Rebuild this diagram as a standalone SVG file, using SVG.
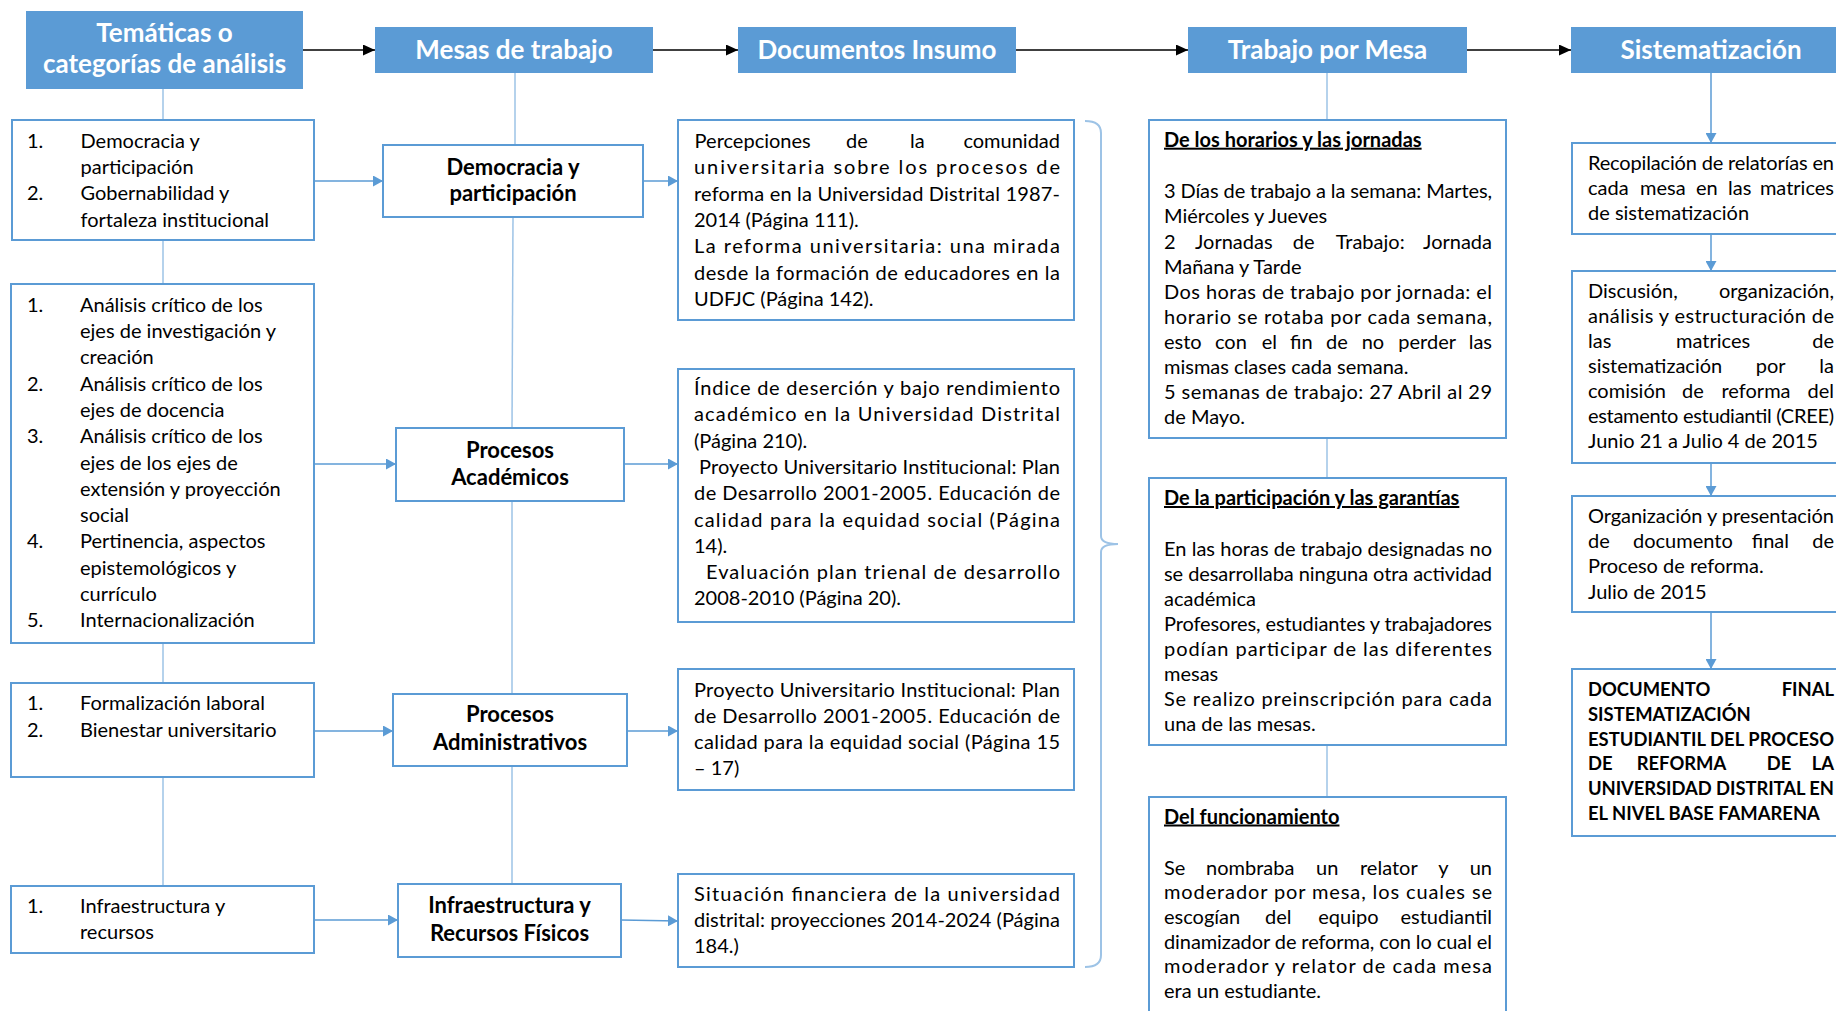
<svg xmlns="http://www.w3.org/2000/svg" width="1836" height="1011" viewBox="0 0 1836 1011">
<defs>
<style>
.hdr{fill:#5B9BD5}
.ht{font-family:Lato,"Liberation Sans",sans-serif;font-weight:bold;font-size:26px;fill:#fff;text-anchor:middle}
.box{fill:#fff;stroke:#5B9BD5;stroke-width:2}
.t{font-family:Lato,"Liberation Sans",sans-serif;font-size:20px;fill:#000}
.e{text-anchor:end}
.b{font-weight:bold}
.u{text-decoration:underline}
.cap{font-family:Lato,"Liberation Sans",sans-serif;font-weight:bold;font-size:18.4px;fill:#000}
.mt{font-family:Lato,"Liberation Sans",sans-serif;font-weight:bold;font-size:22px;fill:#000;text-anchor:middle}
.ln{stroke:#9DC3E6;stroke-width:1.5;fill:none}
.ar{stroke:#5B9BD5;stroke-width:1.5;fill:none;marker-end:url(#ab)}
.bk{stroke:#000;stroke-width:1.5;fill:none;marker-end:url(#ak)}
.br{stroke:#9DC3E6;stroke-width:2;fill:none}
</style>
<marker id="ab" viewBox="0 0 10 11" refX="10" refY="5.5" markerWidth="10" markerHeight="11" markerUnits="userSpaceOnUse" orient="auto"><path d="M0,0 L10,5.5 L0,11 z" fill="#5B9BD5"/></marker>
<marker id="ak" viewBox="0 0 12 11" refX="12" refY="5.5" markerWidth="12" markerHeight="11" markerUnits="userSpaceOnUse" orient="auto"><path d="M0,0 L12,5.5 L0,11 z" fill="#000"/></marker>
</defs>
<rect width="1836" height="1011" fill="#fff"/>

<g id="connectors">
<line class="bk" x1="303" y1="50" x2="375" y2="50"/>
<line class="bk" x1="653" y1="50" x2="738" y2="50"/>
<line class="bk" x1="1016" y1="50" x2="1188" y2="50"/>
<line class="bk" x1="1467" y1="50" x2="1571" y2="50"/>
<line class="ln" x1="163" y1="88" x2="163" y2="120"/>
<line class="ln" x1="163" y1="240" x2="163" y2="284"/>
<line class="ln" x1="163" y1="643" x2="163" y2="683"/>
<line class="ln" x1="163" y1="777" x2="163" y2="886"/>
<line class="ln" x1="515" y1="73" x2="515" y2="145"/>
<line class="ln" x1="513" y1="217" x2="512" y2="428"/>
<line class="ln" x1="512" y1="501" x2="512" y2="694"/>
<line class="ln" x1="512" y1="766" x2="512" y2="884"/>
<line class="ln" x1="1327" y1="73" x2="1327" y2="120"/>
<line class="ln" x1="1327" y1="438" x2="1327" y2="478"/>
<line class="ln" x1="1327" y1="745" x2="1327" y2="797"/>
<line class="ar" x1="1711" y1="73" x2="1711" y2="143"/>
<line class="ar" x1="1711" y1="234" x2="1711" y2="271"/>
<line class="ar" x1="1711" y1="463" x2="1711" y2="496"/>
<line class="ar" x1="1711" y1="612" x2="1711" y2="669"/>
<line class="ar" x1="314" y1="181" x2="383" y2="181"/>
<line class="ar" x1="314" y1="464" x2="396" y2="464"/>
<line class="ar" x1="314" y1="731" x2="393" y2="731"/>
<line class="ar" x1="314" y1="920" x2="398" y2="920"/>
<line class="ar" x1="643" y1="181" x2="678" y2="181"/>
<line class="ar" x1="624" y1="464" x2="678" y2="464"/>
<line class="ar" x1="627" y1="731" x2="678" y2="731"/>
<line class="ar" x1="621" y1="920" x2="678" y2="921"/>
<path class="br" d="M1085,121 Q1101,121 1101,133 V536 Q1101,544 1118,544 Q1101,544 1101,552 V955 Q1101,967 1085,967"/>
</g>

<g id="h1"><rect class="hdr" x="26" y="11" width="277" height="78"/><text class="ht" x="164.5" y="42">Temáticas o</text><text class="ht" x="164.5" y="73">categorías de análisis</text></g>
<g id="h2"><rect class="hdr" x="375" y="27" width="278" height="46"/><text class="ht" x="514" y="58.5">Mesas de trabajo</text></g>
<g id="h3"><rect class="hdr" x="738" y="27" width="278" height="46"/><text class="ht" x="877" y="58.5">Documentos Insumo</text></g>
<g id="h4"><rect class="hdr" x="1188" y="27" width="279" height="46"/><text class="ht" x="1327.5" y="58.5">Trabajo por Mesa</text></g>
<g id="h5"><rect class="hdr" x="1571" y="27" width="280" height="46"/><text class="ht" x="1711" y="58.5">Sistematización</text></g>

<g id="l1"><rect class="box" x="12" y="120" width="302" height="120"/>
<text class="t" x="27" y="148">1.</text><text class="t" x="80.5" y="148">Democracia y</text>
<text class="t" x="80.5" y="174">participación</text>
<text class="t" x="27" y="200">2.</text><text class="t" x="80.5" y="200">Gobernabilidad y</text>
<text class="t" x="80.5" y="226.5">fortaleza institucional</text></g>

<g id="l2"><rect class="box" x="11" y="284" width="303" height="359"/>
<text class="t" x="27" y="311.7">1.</text><text class="t" x="80" y="311.7">Análisis crítico de los</text>
<text class="t" x="80" y="338">ejes de investigación y</text>
<text class="t" x="80" y="364.3">creación</text>
<text class="t" x="27" y="390.6">2.</text><text class="t" x="80" y="390.6">Análisis crítico de los</text>
<text class="t" x="80" y="416.9">ejes de docencia</text>
<text class="t" x="27" y="443.2">3.</text><text class="t" x="80" y="443.2">Análisis crítico de los</text>
<text class="t" x="80" y="469.5">ejes de los ejes de</text>
<text class="t" x="80" y="495.8">extensión y proyección</text>
<text class="t" x="80" y="522.1">social</text>
<text class="t" x="27" y="548.4">4.</text><text class="t" x="80" y="548.4">Pertinencia, aspectos</text>
<text class="t" x="80" y="574.7">epistemológicos y</text>
<text class="t" x="80" y="601">currículo</text>
<text class="t" x="27" y="627.3">5.</text><text class="t" x="80" y="627.3">Internacionalización</text></g>

<g id="l3"><rect class="box" x="11" y="683" width="303" height="94"/>
<text class="t" x="27" y="710">1.</text><text class="t" x="80" y="710">Formalización laboral</text>
<text class="t" x="27" y="736.5">2.</text><text class="t" x="80" y="736.5">Bienestar universitario</text></g>

<g id="l4"><rect class="box" x="11" y="886" width="303" height="67"/>
<text class="t" x="27" y="912.7">1.</text><text class="t" x="80" y="912.7">Infraestructura y</text>
<text class="t" x="80" y="939">recursos</text></g>

<g id="m1"><rect class="box" x="383" y="145" width="260" height="72"/><text class="mt" x="513" y="174.5">Democracia y</text><text class="mt" x="513" y="200.5">participación</text></g>
<g id="m2"><rect class="box" x="396" y="428" width="228" height="73"/><text class="mt" x="510" y="457.5">Procesos</text><text class="mt" x="510" y="485">Académicos</text></g>
<g id="m3"><rect class="box" x="393" y="694" width="234" height="72"/><text class="mt" x="510" y="722">Procesos</text><text class="mt" x="510" y="750">Administrativos</text></g>
<g id="m4"><rect class="box" x="398" y="884" width="223" height="73"/><text class="mt" x="509.5" y="913">Infraestructura y</text><text class="mt" x="509.5" y="941">Recursos Físicos</text></g>

<g id="d1"><rect class="box" x="678" y="120" width="396" height="200"/>
<text class="t" y="148"><tspan x="694.6">Percepciones</tspan><tspan x="846">de</tspan><tspan x="910">la</tspan></text><text class="t e" x="1060" y="148">comunidad</text>
<text class="t" x="694" y="174.3" textLength="366" lengthAdjust="spacing">universitaria sobre los procesos de</text>
<text class="t" x="694" y="200.6" textLength="366" lengthAdjust="spacing">reforma en la Universidad Distrital 1987-</text>
<text class="t" x="694" y="226.9">2014 (Página 111).</text>
<text class="t" x="694" y="253.2" textLength="366" lengthAdjust="spacing">La reforma universitaria: una mirada</text>
<text class="t" x="694" y="279.5" textLength="366" lengthAdjust="spacing">desde la formación de educadores en la</text>
<text class="t" x="694" y="305.8">UDFJC (Página 142).</text></g>

<g id="d2"><rect class="box" x="678" y="369" width="396" height="253"/>
<text class="t" x="694" y="395" textLength="366" lengthAdjust="spacing">Índice de deserción y bajo rendimiento</text>
<text class="t" x="694" y="421.3" textLength="366" lengthAdjust="spacing">académico en la Universidad Distrital</text>
<text class="t" x="694" y="447.6">(Página 210).</text>
<text class="t" x="699" y="473.9" textLength="361" lengthAdjust="spacing">Proyecto Universitario Institucional: Plan</text>
<text class="t" x="694" y="500.2" textLength="366" lengthAdjust="spacing">de Desarrollo 2001-2005. Educación de</text>
<text class="t" x="694" y="526.5" textLength="366" lengthAdjust="spacing">calidad para la equidad social (Página</text>
<text class="t" x="694" y="552.8">14).</text>
<text class="t" x="706" y="579.1" textLength="354" lengthAdjust="spacing">Evaluación plan trienal de desarrollo</text>
<text class="t" x="694" y="605.4">2008-2010 (Página 20).</text></g>

<g id="d3"><rect class="box" x="678" y="669" width="396" height="121"/>
<text class="t" x="694" y="696.7" textLength="366" lengthAdjust="spacing">Proyecto Universitario Institucional: Plan</text>
<text class="t" x="694" y="722.9" textLength="366" lengthAdjust="spacing">de Desarrollo 2001-2005. Educación de</text>
<text class="t" x="694" y="749.1" textLength="366" lengthAdjust="spacing">calidad para la equidad social (Página 15</text>
<text class="t" x="694" y="775.4">– 17)</text></g>

<g id="d4"><rect class="box" x="678" y="874" width="396" height="93"/>
<text class="t" x="694" y="900.5" textLength="366" lengthAdjust="spacing">Situación financiera de la universidad</text>
<text class="t" x="694" y="926.7" textLength="366" lengthAdjust="spacing">distrital: proyecciones 2014-2024 (Página</text>
<text class="t" x="694" y="952.9">184.)</text></g>

<g id="t1"><rect class="box" x="1149" y="120" width="357" height="318"/>
<text class="t b u" x="1164" y="146.7">De los horarios y las jornadas</text>
<text class="t" x="1164" y="198.3" textLength="328" lengthAdjust="spacing">3 Días de trabajo a la semana: Martes,</text>
<text class="t" x="1164" y="223.4">Miércoles y Jueves</text>
<text class="t" y="248.5"><tspan x="1164">2</tspan><tspan x="1195">Jornadas</tspan><tspan x="1292.7">de</tspan><tspan x="1335.7">Trabajo:</tspan></text><text class="t e" x="1492" y="248.5">Jornada</text>
<text class="t" x="1164" y="273.6">Mañana y Tarde</text>
<text class="t" x="1164" y="298.7" textLength="328" lengthAdjust="spacing">Dos horas de trabajo por jornada: el</text>
<text class="t" x="1164" y="323.8" textLength="328" lengthAdjust="spacing">horario se rotaba por cada semana,</text>
<text class="t" y="348.9"><tspan x="1164">esto</tspan><tspan x="1215">con</tspan><tspan x="1261.7">el</tspan><tspan x="1290">fin</tspan><tspan x="1326">de</tspan><tspan x="1361.7">no</tspan><tspan x="1398.3">perder</tspan></text><text class="t e" x="1492" y="348.9">las</text>
<text class="t" x="1164" y="374">mismas clases cada semana.</text>
<text class="t" x="1164" y="399.1" textLength="328" lengthAdjust="spacing">5 semanas de trabajo: 27 Abril al 29</text>
<text class="t" x="1164" y="424.2">de Mayo.</text></g>

<g id="t2"><rect class="box" x="1149" y="478" width="357" height="267"/>
<text class="t b u" x="1164" y="505">De la participación y las garantías</text>
<text class="t" x="1164" y="555.5" textLength="328" lengthAdjust="spacing">En las horas de trabajo designadas no</text>
<text class="t" x="1164" y="580.6" textLength="328" lengthAdjust="spacing">se desarrollaba ninguna otra actividad</text>
<text class="t" x="1164" y="605.7">académica</text>
<text class="t" x="1164" y="630.8" textLength="328" lengthAdjust="spacing">Profesores, estudiantes y trabajadores</text>
<text class="t" x="1164" y="655.9" textLength="328" lengthAdjust="spacing">podían participar de las diferentes</text>
<text class="t" x="1164" y="681">mesas</text>
<text class="t" x="1164" y="706.1" textLength="328" lengthAdjust="spacing">Se realizo preinscripción para cada</text>
<text class="t" x="1164" y="731.2">una de las mesas.</text></g>

<g id="t3"><rect class="box" x="1149" y="797" width="357" height="240"/>
<text class="t b u" x="1164" y="823.5">Del funcionamiento</text>
<text class="t" y="874.5"><tspan x="1164">Se</tspan><tspan x="1206">nombraba</tspan><tspan x="1316">un</tspan><tspan x="1360">relator</tspan><tspan x="1438.3">y</tspan></text><text class="t e" x="1492" y="874.5">un</text>
<text class="t" x="1164" y="899.2" textLength="328" lengthAdjust="spacing">moderador por mesa, los cuales se</text>
<text class="t" y="923.9"><tspan x="1164">escogían</tspan><tspan x="1265">del</tspan><tspan x="1318.3">equipo</tspan></text><text class="t e" x="1492" y="923.9">estudiantil</text>
<text class="t" x="1164" y="948.6" textLength="328" lengthAdjust="spacing">dinamizador de reforma, con lo cual el</text>
<text class="t" x="1164" y="973.3" textLength="328" lengthAdjust="spacing">moderador y relator de cada  mesa</text>
<text class="t" x="1164" y="998">era un estudiante.</text></g>

<g id="s1"><rect class="box" x="1572" y="143" width="280" height="91"/>
<text class="t" x="1588" y="170" textLength="246" lengthAdjust="spacing">Recopilación de relatorías en</text>
<text class="t" y="195.2"><tspan x="1588">cada</tspan><tspan x="1640">mesa</tspan><tspan x="1696">en</tspan><tspan x="1728">las</tspan></text><text class="t e" x="1834" y="195.2">matrices</text>
<text class="t" x="1588" y="220.4">de sistematización</text></g>

<g id="s2"><rect class="box" x="1572" y="271" width="280" height="192"/>
<text class="t" x="1588" y="297.7">Discusión,</text><text class="t e" x="1834" y="297.7">organización,</text>
<text class="t" x="1588" y="322.8" textLength="246" lengthAdjust="spacing">análisis  y estructuración de</text>
<text class="t" y="347.9"><tspan x="1588">las</tspan><tspan x="1676">matrices</tspan></text><text class="t e" x="1834" y="347.9">de</text>
<text class="t" y="373"><tspan x="1588">sistematización</tspan><tspan x="1755.7">por</tspan></text><text class="t e" x="1834" y="373">la</text>
<text class="t" y="398.1"><tspan x="1588">comisión</tspan><tspan x="1682">de</tspan><tspan x="1721.5">reforma</tspan></text><text class="t e" x="1834" y="398.1">del</text>
<text class="t" x="1588" y="423.2" textLength="246" lengthAdjust="spacing">estamento estudiantil (CREE)</text>
<text class="t" x="1588" y="448.3">Junio 21 a Julio 4 de 2015</text></g>

<g id="s3"><rect class="box" x="1572" y="496" width="280" height="116"/>
<text class="t" x="1588" y="523" textLength="246" lengthAdjust="spacing">Organización y presentación</text>
<text class="t" y="548.2"><tspan x="1588">de</tspan><tspan x="1633">documento</tspan><tspan x="1751.7">final</tspan></text><text class="t e" x="1834" y="548.2">de</text>
<text class="t" x="1588" y="573.4">Proceso de reforma.</text>
<text class="t" x="1588" y="598.6">Julio de 2015</text></g>

<g id="s4"><rect class="box" x="1572" y="669" width="280" height="167"/>
<text class="cap" x="1588" y="696">DOCUMENTO</text><text class="cap e" x="1834" y="696">FINAL</text>
<text class="cap" x="1588" y="720.8">SISTEMATIZACIÓN</text>
<text class="cap" x="1588" y="745.6" textLength="246" lengthAdjust="spacing">ESTUDIANTIL DEL PROCESO</text>
<text class="cap" y="770.4"><tspan x="1588">DE</tspan><tspan x="1636.7">REFORMA</tspan><tspan x="1766.7">DE</tspan></text><text class="cap e" x="1834" y="770.4">LA</text>
<text class="cap" x="1588" y="795.2" textLength="246" lengthAdjust="spacing">UNIVERSIDAD DISTRITAL EN</text>
<text class="cap" x="1588" y="820">EL NIVEL BASE FAMARENA</text></g>
</svg>
